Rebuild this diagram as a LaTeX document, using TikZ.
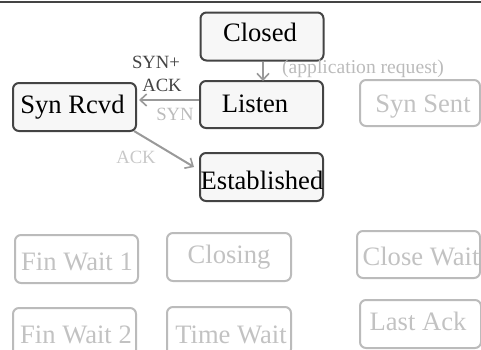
\documentclass[tikz,border=0pt]{standalone}
\usepackage{fontspec}
\setmainfont{Liberation Serif}
\usetikzlibrary{arrows.meta}
\definecolor{activeedge}{HTML}{444444}
\definecolor{activefill}{HTML}{F7F7F7}
\definecolor{idleedge}{HTML}{BBBBBB}
\definecolor{idletext}{HTML}{C2C2C2}
\definecolor{flowline}{HTML}{999999}
\definecolor{darklabel}{HTML}{444444}
\definecolor{faintlabel}{HTML}{BBBBBB}
\definecolor{fainterlabel}{HTML}{C8C8C8}
\tikzset{
  x=1pt, y=1pt,
  statebox/.style={rectangle, rounded corners=6pt, line width=2pt,
    minimum width=123pt, minimum height=48pt, inner sep=0pt},
  activebox/.style={statebox, draw=activeedge, fill=activefill},
  idlebox/.style={statebox, draw=idleedge},
  activetext/.style={anchor=base, inner sep=0pt, text=black, font=\fontsize{26.6}{30}\selectfont},
  idletext/.style={anchor=base, inner sep=0pt, text=idletext, font=\fontsize{26.6}{30}\selectfont},
  edgelabel/.style={anchor=base, inner sep=0pt, font=\fontsize{18.7}{22}\selectfont},
  flow/.style={draw=flowline, line width=2pt,
    -{Straight Barb[length=6.5pt,width=12pt,line width=1.6pt]}},
}
\begin{document}
\begin{tikzpicture}
\useasboundingbox (0,0) rectangle (481,-349);
\begin{scope}
\clip (0,0) rectangle (481,-349);
% frame edge along the top
\coordinate (frameleft) at (0,-1.5);
\coordinate (frameright) at (481,-1.5);
\draw[line width=2pt, draw=activeedge] (frameleft) -- (frameright);

% states on the connection path
\node[activebox] (closed) at (262,-36.5) {};
\node[activebox] (listen) at (261.5,-104.5) [minimum height=47pt] {};
\node[activebox] (synrcvd) at (74.5,-107) {};
\node[activebox] (established) at (261.5,-177) {};

% remaining states
\node[idlebox, minimum width=120pt, minimum height=46pt] (synsent) at (420,-103) {};
\node[idlebox] (finwaitone) at (76.5,-259) {};
\node[idlebox, minimum width=124pt] (closing) at (229,-257) {};
\node[idlebox, minimum height=47pt] (closewait) at (418.5,-254.5) {};
\node[idlebox] (finwaittwo) at (74.5,-332) {};
\node[idlebox, minimum width=124pt] (timewait) at (229,-331) {};
\node[idlebox, minimum width=121pt] (lastack) at (420.5,-324) {};

% state names
\node[activetext] (closedname) at (260,-41) {Closed};
\node[activetext] (listenname) at (255,-112) {Listen};
\node[activetext] (synrcvdname) at (72.5,-113) {Syn Rcvd};
\node[activetext] (establishedname) at (262,-189) {Established};
\node[idletext] (synsentname) at (423,-112) {Syn Sent};
\node[idletext] (finwaitonename) at (77,-270) {Fin Wait 1};
\node[idletext] (closingname) at (229,-263) {Closing};
\node[idletext] (closewaitname) at (421,-265) {Close Wait};
\node[idletext] (finwaittwoname) at (76,-343) {Fin Wait 2};
\node[idletext] (timewaitname) at (231,-343) {Time Wait};
\node[idletext] (lastackname) at (418,-330) {Last Ack};

% transitions
\draw[flow] ([xshift=1pt]closed.south) -- ([xshift=1.5pt,yshift=-1pt]listen.north);
\draw[flow] ([yshift=4.5pt]listen.west) -- ([xshift=2pt,yshift=7pt]synrcvd.east);
\draw[flow] ([shift={(-3pt,1pt)}]synrcvd.south east) -- ([shift={(-5pt,10pt)}]established.west);

% transition labels
\node[edgelabel, text=darklabel] (synplus) at (156,-68) {SYN+};
\node[edgelabel, text=darklabel] (ackdark) at (162,-91) {ACK};
\node[edgelabel, text=faintlabel] (synlight) at (175,-120) {SYN};
\node[edgelabel, text=fainterlabel] (acklight) at (136,-163) {ACK};
\node[edgelabel, text=faintlabel, font=\fontsize{19.6}{22}\selectfont] (apprequest) at (363,-73) {(application request)};
\end{scope}
\end{tikzpicture}
\end{document}
